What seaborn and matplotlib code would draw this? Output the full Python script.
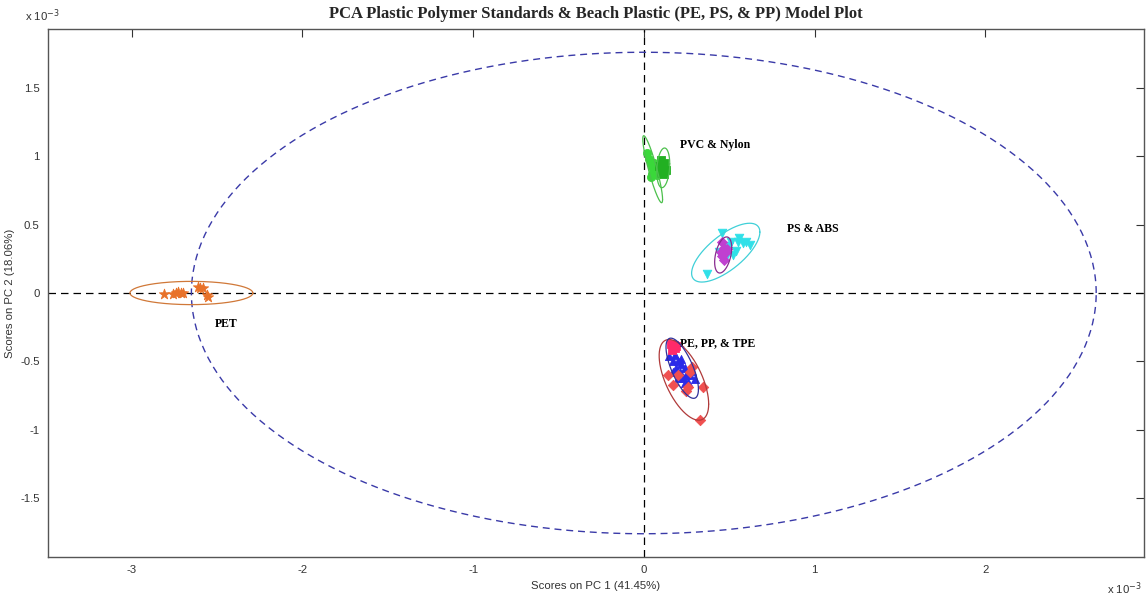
import numpy as np
import pandas as pd
import matplotlib
matplotlib.use("Agg")
import matplotlib.pyplot as plt
import seaborn as sns

# ---------------- data (scores, units of 1e-3) ----------------
pet_x = [-2.81, -2.76, -2.74, -2.71, -2.70, -2.61, -2.60, -2.56, -2.55, -2.73, -2.58]
pet_y = [-0.007, -0.007, 0.0, 0.0, 0.0, 0.045, 0.034, -0.015, -0.027, 0.005, 0.04]

pvc_x = [0.02, 0.03, 0.04, 0.05, 0.06, 0.05, 0.07, 0.04, 0.08, 0.06]
pvc_y = [1.02, 0.98, 0.95, 0.92, 0.90, 0.87, 0.88, 0.85, 0.86, 0.95]

nylon_x = [0.10, 0.12, 0.11, 0.13, 0.10, 0.12, 0.09]
nylon_y = [0.97, 0.95, 0.92, 0.90, 0.88, 0.87, 0.93]

ps_x = [0.46, 0.55, 0.58, 0.60, 0.54, 0.51, 0.37, 0.50, 0.56, 0.44, 0.52, 0.62, 0.48]
ps_y = [0.44, 0.37, 0.365, 0.37, 0.31, 0.37, 0.14, 0.34, 0.40, 0.30, 0.28, 0.35, 0.26]

abs_x = [0.46, 0.47, 0.48, 0.46, 0.47, 0.49, 0.45]
abs_y = [0.37, 0.33, 0.30, 0.27, 0.24, 0.32, 0.30]

tpe_x = [0.16, 0.175, 0.18, 0.165, 0.19]
tpe_y = [-0.37, -0.38, -0.40, -0.42, -0.39]

pe_x = [0.15, 0.18, 0.20, 0.22, 0.24, 0.19, 0.17, 0.21, 0.25, 0.23, 0.27, 0.20, 0.26, 0.28, 0.30, 0.22, 0.17, 0.24]
pe_y = [-0.46, -0.45, -0.50, -0.52, -0.55, -0.55, -0.50, -0.58, -0.60, -0.62, -0.60, -0.62, -0.65, -0.57, -0.63, -0.48, -0.58, -0.66]

pp_x = [0.17, 0.26, 0.25, 0.345, 0.33, 0.28, 0.27, 0.20, 0.14]
pp_y = [-0.67, -0.69, -0.72, -0.69, -0.93, -0.54, -0.58, -0.60, -0.60]

# ellipses: centre x, centre y, x half-extent, y half-extent, tilt (correlation)
ell_names = ["model", "PET", "PVC", "Nylon", "PS", "ABS", "PP", "PE"]
ell_cx = [0.0, -2.65, 0.052, 0.114, 0.48, 0.465, 0.235, 0.225]
ell_cy = [0.0, 0.0, 0.905, 0.915, 0.295, 0.278, -0.635, -0.55]
ell_rx = [2.65, 0.36, 0.058, 0.038, 0.20, 0.05, 0.145, 0.095]
ell_ry = [1.76, 0.085, 0.245, 0.145, 0.215, 0.132, 0.295, 0.22]
ell_rho = [0.0, 0.0, -0.9, 0.2, 0.7, 0.4, -0.6, -0.7]

labels_text = ["PVC & Nylon", "PS & ABS", "PE, PP, & TPE", "PET"]
labels_x = [0.21, 0.84, 0.21, -2.51]
labels_y = [1.08, 0.47, -0.365, -0.23]

xticks = [-3, -2, -1, 0, 1, 2]
yticks = [-1.5, -1, -0.5, 0, 0.5, 1, 1.5]
yticklabels = ["-1.5", "-1", "-0.5", "0", "0.5", "1", "1.5"]

# ---------------- styling ----------------
sns.set_style("white")
plt.rcParams['font.family'] = ['Liberation Sans', 'DejaVu Sans']

fig = plt.figure(figsize=(11.46, 5.96), dpi=100)
ax = fig.add_axes([48/1146, 39/596, 1096/1146, 528/596])

groups = [
    (pet_x, pet_y, "*", "#e8722a", 60),
    (pvc_x, pvc_y, "o", "#3ad83a", 34),
    (nylon_x, nylon_y, "s", "#22b022", 30),
    (ps_x, ps_y, "v", "#30e0e8", 38),
    (abs_x, abs_y, "D", "#c040d0", 26),
    (pe_x, pe_y, "^", "#2a2ae8", 34),
    (pp_x, pp_y, "D", "#f05050", 28),
    (tpe_x, tpe_y, "s", "#ff2a6a", 34),
]
for gx, gy, mk, col, s in groups:
    df = pd.DataFrame({"x": gx, "y": gy})
    sns.scatterplot(data=df, x="x", y="y", marker=mk, color=col, edgecolor=col,
                    s=s, linewidth=0.6, ax=ax, zorder=3)

ell_colors = ["#3a3aa8", "#d07838", "#4cc04c", "#4cc04c", "#40d0d8", "#882a90", "#b03a3a", "#30309a"]
t = np.linspace(0, 2 * np.pi, 400)
for cx, cy, rx, ry, rho, col, name in zip(ell_cx, ell_cy, ell_rx, ell_ry, ell_rho, ell_colors, ell_names):
    ex = cx + rx * np.cos(t)
    ey = cy + ry * (rho * np.cos(t) + np.sqrt(1 - rho ** 2) * np.sin(t))
    if name == "model":
        ax.plot(ex, ey, color=col, lw=1.0, ls=(0, (5, 3.5)), zorder=2)
    else:
        ax.plot(ex, ey, color=col, lw=0.9, zorder=4)

ax.axhline(0, color="black", lw=0.9, ls=(0, (6, 4)), zorder=1)
ax.axvline(0, color="black", lw=0.9, ls=(0, (6, 4)), zorder=1)

for txt, lx, ly in zip(labels_text, labels_x, labels_y):
    ax.text(lx, ly, txt, fontsize=8.5, fontweight="bold", family="Liberation Serif",
            va="center", ha="left", color="black")

ax.set_xlim(-3.49, 2.93)
ax.set_ylim(-1.93, 1.93)
ax.set_xticks(xticks)
ax.set_xticklabels([str(v) for v in xticks])
ax.set_yticks(yticks)
ax.set_yticklabels(yticklabels)
ax.tick_params(direction="in", length=6, width=0.8, labelsize=8.2, colors="#333333",
               top=True, right=True, pad=6)
for sp in ax.spines.values():
    sp.set_color("#555555")
    sp.set_linewidth(1.0)

ax.set_xlabel("Scores on PC 1 (41.45%)", fontsize=8.2, color="#333333", labelpad=4)
ax.set_ylabel("Scores on PC 2 (18.06%)", fontsize=8.2, color="#333333", labelpad=4)
ax.set_title("PCA Plastic Polymer Standards & Beach Plastic (PE, PS, & PP) Model Plot",
             fontsize=12, fontweight="bold", family="Liberation Serif", pad=8)

fig.text(25/1146, 1 - 16/596, r"x 10$^{-3}$", fontsize=8.2, color="#333333", va="center", ha="left")
fig.text(1142/1146, 1 - 589/596, r"x 10$^{-3}$", fontsize=8.2, color="#333333", va="center", ha="right")

fig.savefig("out.png", dpi=100)
